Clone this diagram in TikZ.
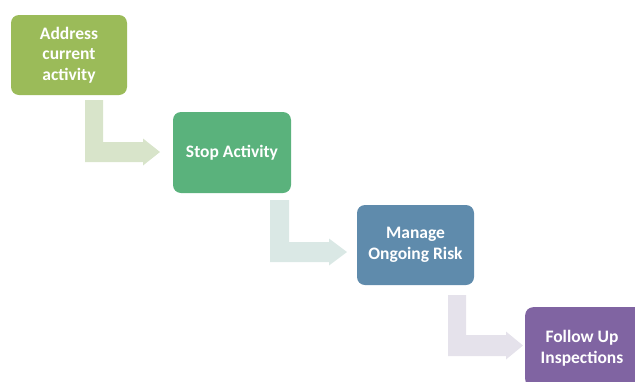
\documentclass[tikz,border=0pt]{standalone}
\usepackage{fontspec}
\setmainfont{Carlito}
\definecolor{cA}{HTML}{9BBB59}
\definecolor{cB}{HTML}{5AB27C}
\definecolor{cC}{HTML}{5F8BAC}
\definecolor{cD}{HTML}{8064A2}
\definecolor{aA}{HTML}{D8E4CA}
\definecolor{aB}{HTML}{DAE8E5}
\definecolor{aC}{HTML}{E5E2EB}
\tikzset{
  boxtext/.style={text=white, align=center, font=\fontsize{17.5}{20.5}\selectfont\bfseries},
  stepbox/.style={rounded corners=8pt, inner sep=0pt, boxtext}
}
\begin{document}
\begin{tikzpicture}[x=1pt,y=-1pt]
\useasboundingbox (0,0) rectangle (635,381);
\clip (0,0) rectangle (635,381);
% boxes
\node[stepbox, fill=cA, minimum width=116pt, minimum height=80pt] (a) at (69,55) {Address\\current\\activity};
\node[stepbox, fill=cB, minimum width=118pt, minimum height=81pt] (b) at (232,152.5) {Stop Activity};
\node[stepbox, fill=cC, minimum width=117pt, minimum height=80pt] (c) at (415.5,245) {Manage\\Ongoing Risk};
\node[stepbox, fill=cD, minimum width=118pt, minimum height=80pt, anchor=north west] (d) at (525,307) {};
\node[boxtext] (dt) at (582,348) {Follow Up\\Inspections};
% bent arrows
\fill[aA] (85,100) -- (103,100) -- (103,142) -- (143,142) -- (143,138.5) -- (160,152) -- (143,165.5) -- (143,162) -- (85,162) -- cycle;
\fill[aB] (270,200) -- (289,200) -- (289,242) -- (329,242) -- (329,238.5) -- (347,252) -- (329,265.5) -- (329,262) -- (270,262) -- cycle;
\fill[aC] (448,295) -- (466,295) -- (466,335) -- (506,335) -- (506,331.5) -- (523,345.5) -- (506,359.5) -- (506,356) -- (448,356) -- cycle;
\end{tikzpicture}
\end{document}
